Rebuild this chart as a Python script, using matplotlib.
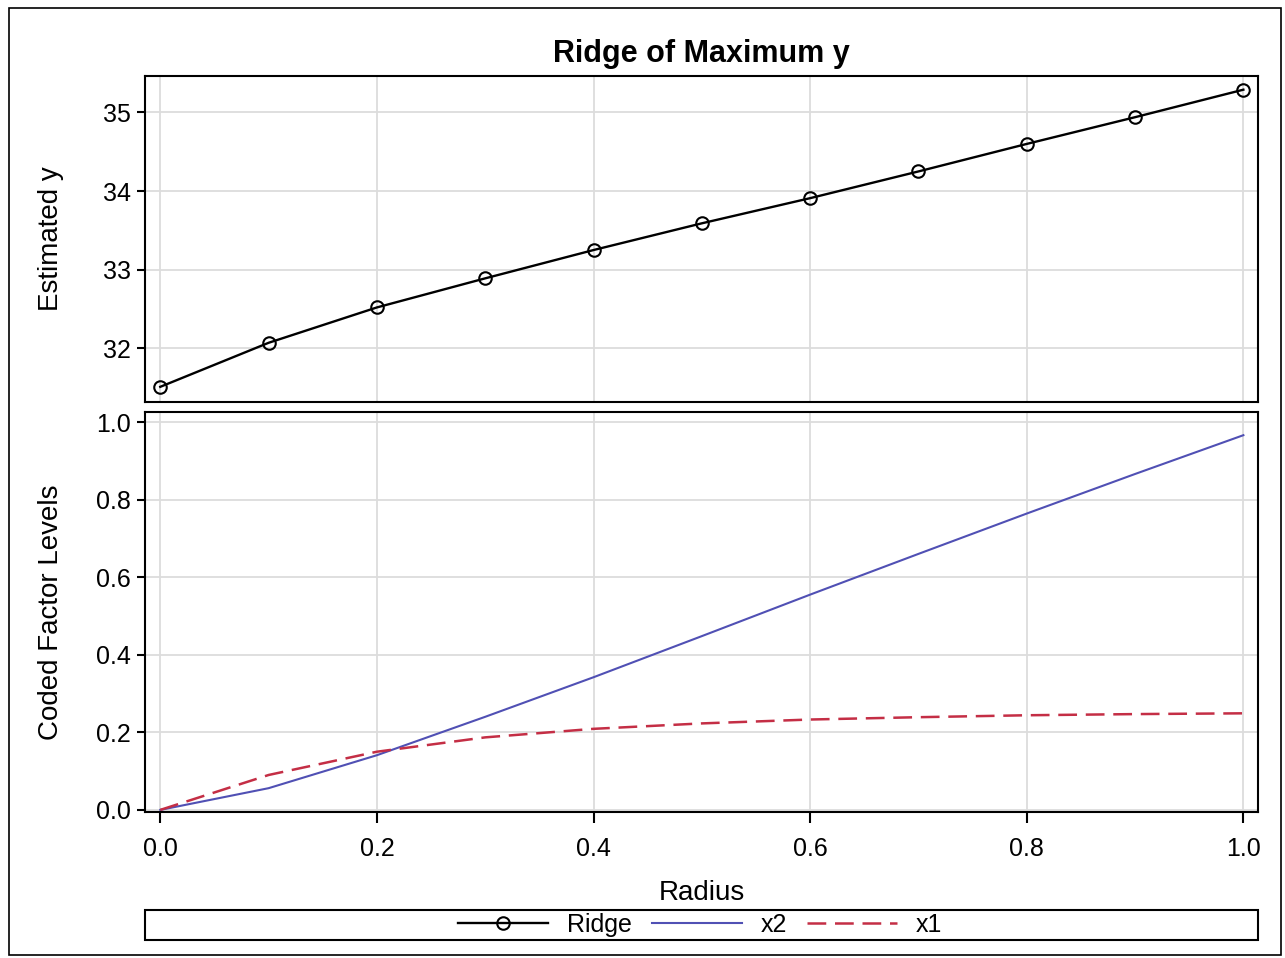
import matplotlib
matplotlib.use("Agg")
import matplotlib.pyplot as plt
from matplotlib.patches import Rectangle
from matplotlib.lines import Line2D

radius = [0.0, 0.1, 0.2, 0.3, 0.4, 0.5, 0.6, 0.7, 0.8, 0.9, 1.0]
ridge = [31.51, 32.07, 32.52, 32.89, 33.25, 33.59, 33.91, 34.25, 34.60, 34.94, 35.29]
x2 = [0.0, 0.056, 0.141, 0.240, 0.342, 0.448, 0.555, 0.660, 0.764, 0.866, 0.966]
x1 = [0.0, 0.090, 0.150, 0.187, 0.209, 0.223, 0.233, 0.239, 0.244, 0.247, 0.249]
top_yticks = [32, 33, 34, 35]
bot_yticks = [0.0, 0.2, 0.4, 0.6, 0.8, 1.0]
xticks = [0.0, 0.2, 0.4, 0.6, 0.8, 1.0]

plt.rcParams['font.family'] = ['Liberation Sans', 'DejaVu Sans']
W, H = 1285, 958
fig = plt.figure(figsize=(W / 100, H / 100), dpi=100)

def fr(l, t, r, b):
    return [l / W, 1 - b / H, (r - l) / W, (b - t) / H]

ax1 = fig.add_axes(fr(145, 76, 1258, 402))
ax2 = fig.add_axes(fr(145, 412, 1258, 812))

blue = '#5050B4'
red = '#C42E45'
grid_c = '#dcdcdc'
fs_tick = 18
fs_lab = 20
fs_title = 22

for ax in (ax1, ax2):
    ax.set_xlim(-0.0141, 1.0135)
    ax.grid(True, color=grid_c, lw=1.3)
    ax.set_axisbelow(True)
    for s in ax.spines.values():
        s.set_linewidth(1.5)
    ax.tick_params(axis='both', direction='out', length=6, width=1.5,
                   labelsize=fs_tick, pad=4)
    ax.set_xticks(xticks)

ax1.plot(radius, ridge, color='black', lw=1.7, marker='o', ms=9,
         mfc='none', mec='black', mew=1.5)
ax1.set_ylim(31.317, 35.464)
ax1.set_yticks(top_yticks)
ax1.tick_params(axis='x', bottom=False, labelbottom=False)
ax1.set_ylabel('Estimated y', fontsize=fs_lab)
ax1.set_title('Ridge of Maximum y', fontsize=fs_title, fontweight='bold', pad=10)

ax2.plot(radius, x2, color=blue, lw=1.5)
ax2.plot(radius, x1, color=red, lw=1.8, dashes=(7.5, 3.5))
ax2.set_ylim(-0.0054, 1.0258)
ax2.set_yticks(bot_yticks)
ax2.set_yticklabels([f'{v:.1f}' for v in bot_yticks])
ax2.set_xticklabels([f'{v:.1f}' for v in xticks])
ax2.set_ylabel('Coded Factor Levels', fontsize=fs_lab)
ax2.set_xlabel('Radius', fontsize=fs_lab, labelpad=14)
ax2.tick_params(axis='x', length=8, pad=10)

for ax in (ax1, ax2):
    ax.yaxis.set_label_coords(-0.073, 0.5)

# legend frame
fig.patches.append(Rectangle((145 / W, 1 - 940 / H), (1258 - 145) / W, 30 / H,
                             transform=fig.transFigure, fill=False,
                             edgecolor='black', lw=1.5))
handles = [
    Line2D([], [], color='black', lw=1.7, marker='o', ms=9, mfc='none', mew=1.5),
    Line2D([], [], color=blue, lw=1.5),
    Line2D([], [], color=red, lw=1.8, dashes=(7.5, 3.5)),
]
fig.legend(handles, ['Ridge', 'x2', 'x1'], loc='center',
           bbox_to_anchor=(700 / W, 1 - 925 / H), ncol=3, frameon=False,
           fontsize=fs_tick, handlelength=3.6, handletextpad=0.75, columnspacing=0.8,
           borderaxespad=0, borderpad=0)

# outer border
fig.patches.append(Rectangle((9 / W, 1 - 955 / H), (1281 - 9) / W, (955 - 8) / H,
                             transform=fig.transFigure, fill=False,
                             edgecolor='black', lw=1.2))

fig.savefig('out.png', dpi=100)
